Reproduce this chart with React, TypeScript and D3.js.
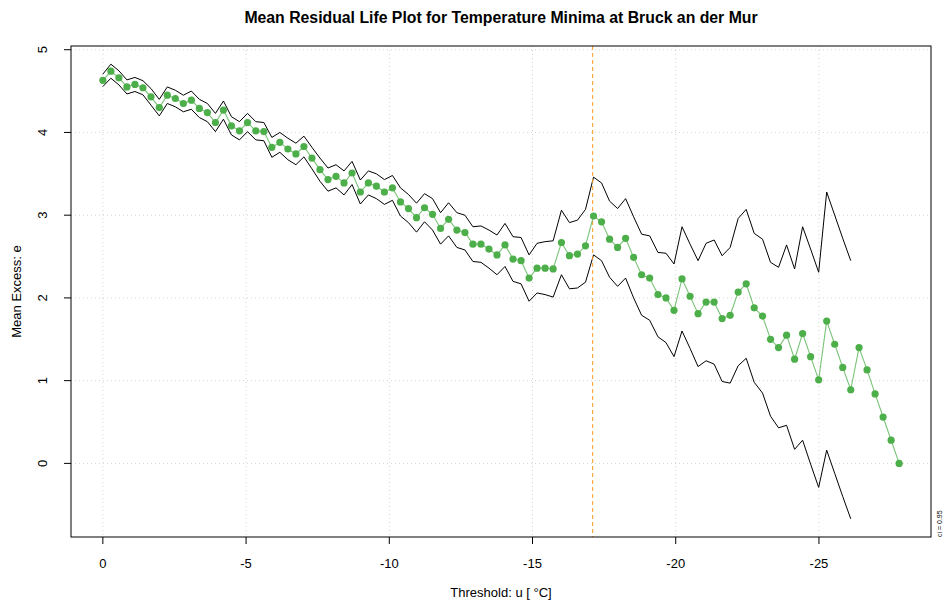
import React from "react";
import * as d3 from "d3";

// Thresholds u (°C), from 0 down to the lowest minimum
const thresholds: number[] = [
  0, -0.28, -0.56, -0.84, -1.12, -1.4, -1.68, -1.97, -2.25, -2.53,
  -2.81, -3.09, -3.37, -3.65, -3.93, -4.21, -4.49, -4.77, -5.05, -5.34,
  -5.62, -5.9, -6.18, -6.46, -6.74, -7.02, -7.3, -7.58, -7.86, -8.14,
  -8.42, -8.7, -8.99, -9.27, -9.55, -9.83, -10.11, -10.39, -10.67, -10.95,
  -11.23, -11.51, -11.79, -12.07, -12.36, -12.64, -12.92, -13.2, -13.48, -13.76,
  -14.04, -14.32, -14.6, -14.88, -15.16, -15.44, -15.72, -16.01, -16.29, -16.57,
  -16.85, -17.13, -17.41, -17.69, -17.97, -18.25, -18.53, -18.81, -19.09, -19.38,
  -19.66, -19.94, -20.22, -20.5, -20.78, -21.06, -21.34, -21.62, -21.9, -22.18,
  -22.46, -22.74, -23.03, -23.31, -23.59, -23.87, -24.15, -24.43, -24.71, -24.99,
  -25.27, -25.55, -25.83, -26.11, -26.4, -26.68, -26.96, -27.24, -27.52, -27.8,
];

// Mean excess e(u)
const meanExcess: number[] = [
  4.63, 4.74, 4.66, 4.55, 4.58, 4.54, 4.43, 4.3, 4.45, 4.41,
  4.35, 4.39, 4.29, 4.24, 4.12, 4.27, 4.08, 4.02, 4.12, 4.02,
  4.01, 3.82, 3.88, 3.8, 3.74, 3.83, 3.69, 3.55, 3.43, 3.47,
  3.39, 3.51, 3.28, 3.39, 3.35, 3.28, 3.33, 3.16, 3.08, 2.97,
  3.09, 3.01, 2.84, 2.95, 2.82, 2.79, 2.65, 2.65, 2.59, 2.52,
  2.64, 2.47, 2.45, 2.24, 2.36, 2.36, 2.35, 2.67, 2.51, 2.53,
  2.63, 2.99, 2.92, 2.71, 2.61, 2.72, 2.49, 2.28, 2.24, 2.04,
  2.0, 1.85, 2.23, 2.02, 1.81, 1.95, 1.95, 1.75, 1.79, 2.07,
  2.17, 1.88, 1.78, 1.5, 1.4, 1.55, 1.26, 1.57, 1.29, 1.01,
  1.72, 1.44, 1.16, 0.89, 1.4, 1.13, 0.84, 0.56, 0.28, 0.0,
];

// Half-width of the 95% confidence band (available for the first 94 thresholds)
const ciHalfWidth: number[] = [
  0.075, 0.085, 0.085, 0.085, 0.085, 0.085, 0.1, 0.1, 0.1, 0.1,
  0.1, 0.11, 0.11, 0.11, 0.11, 0.11, 0.11, 0.11, 0.11, 0.11,
  0.11, 0.12, 0.12, 0.13, 0.13, 0.125, 0.13, 0.14, 0.14, 0.14,
  0.145, 0.14, 0.145, 0.145, 0.15, 0.15, 0.15, 0.17, 0.17, 0.175,
  0.17, 0.19, 0.19, 0.2, 0.21, 0.21, 0.21, 0.22, 0.23, 0.24,
  0.26, 0.27, 0.28, 0.28, 0.3, 0.32, 0.34, 0.39, 0.4, 0.41,
  0.44, 0.47, 0.47, 0.46, 0.47, 0.48, 0.49, 0.49, 0.51, 0.51,
  0.54, 0.56, 0.63, 0.63, 0.64, 0.71, 0.75, 0.76, 0.82, 0.89,
  0.9, 0.9, 0.93, 0.93, 0.97, 1.09, 1.09, 1.29, 1.3, 1.3,
  1.56, 1.56, 1.56, 1.56,
];

const xTicks: number[] = [0, -5, -10, -15, -20, -25];
const yTicks: number[] = [0, 1, 2, 3, 4, 5];
const selectedThreshold = -17.1;
const ciLevel = 0.95;

const W = 951;
const H = 609;
const plot = { left: 71, right: 931, top: 46, bottom: 537 };
const FONT = "'Liberation Sans', Arial, Helvetica, sans-serif";
const GREEN = "#4DAF4A";

export default function App() {
  const upper = ciHalfWidth.map((h, i) => meanExcess[i] + h);
  const lower = ciHalfWidth.map((h, i) => meanExcess[i] - h);

  // R-style axis extents: data range padded by 4% on each side
  const xMin = d3.min(thresholds)!;
  const xMax = d3.max(thresholds)!;
  const xPad = (xMax - xMin) * 0.04;
  const yMin = Math.min(d3.min(lower)!, d3.min(meanExcess)!);
  const yMax = Math.max(d3.max(upper)!, d3.max(meanExcess)!);
  const yPad = (yMax - yMin) * 0.04;

  const x = d3
    .scaleLinear()
    .domain([xMax + xPad, xMin - xPad])
    .range([plot.left, plot.right]);
  const y = d3
    .scaleLinear()
    .domain([yMin - yPad, yMax + yPad])
    .range([plot.bottom, plot.top]);

  const line = d3
    .line<[number, number]>()
    .x((d) => x(d[0]))
    .y((d) => y(d[1]));

  const meanPts: [number, number][] = thresholds.map((u, i) => [u, meanExcess[i]]);
  const upperPts: [number, number][] = upper.map((v, i) => [thresholds[i], v]);
  const lowerPts: [number, number][] = lower.map((v, i) => [thresholds[i], v]);

  const midX = (plot.left + plot.right) / 2;
  const midY = (plot.top + plot.bottom) / 2;

  return (
    <svg
      width={W}
      height={H}
      style={{ position: "absolute", left: 0, top: 0, background: "#fff" }}
      fontFamily={FONT}
    >
      <rect x={0} y={0} width={W} height={H} fill="#fff" />

      {/* grid */}
      <g stroke="#d3d3d3" strokeWidth={1} strokeDasharray="1,3">
        {xTicks.map((t) => (
          <line key={"gx" + t} x1={x(t)} x2={x(t)} y1={plot.top} y2={plot.bottom} />
        ))}
        {yTicks.map((t) => (
          <line key={"gy" + t} x1={plot.left} x2={plot.right} y1={y(t)} y2={y(t)} />
        ))}
      </g>

      {/* confidence band limits */}
      <path d={line(upperPts)!} fill="none" stroke="#000" strokeWidth={1} />
      <path d={line(lowerPts)!} fill="none" stroke="#000" strokeWidth={1} />

      {/* selected threshold */}
      <line
        x1={x(selectedThreshold)}
        x2={x(selectedThreshold)}
        y1={plot.top}
        y2={plot.bottom}
        stroke="#FF9A1F"
        strokeWidth={1}
        strokeDasharray="4,3"
      />

      {/* mean excess */}
      <path d={line(meanPts)!} fill="none" stroke={GREEN} strokeOpacity={0.75} strokeWidth={1.1} />
      <g fill={GREEN}>
        {meanPts.map((p, i) => (
          <circle key={i} cx={x(p[0])} cy={y(p[1])} r={3.6} />
        ))}
      </g>

      {/* frame */}
      <rect
        x={plot.left}
        y={plot.top}
        width={plot.right - plot.left}
        height={plot.bottom - plot.top}
        fill="none"
        stroke="#000"
        strokeWidth={1}
      />

      {/* x axis */}
      <g fontSize={13} textAnchor="middle" fill="#000">
        {xTicks.map((t) => (
          <g key={"xt" + t}>
            <line x1={x(t)} x2={x(t)} y1={plot.bottom} y2={plot.bottom + 7} stroke="#000" />
            <text x={x(t)} y={plot.bottom + 31}>
              {t}
            </text>
          </g>
        ))}
      </g>

      {/* y axis */}
      <g fontSize={13} textAnchor="middle" fill="#000">
        {yTicks.map((t) => (
          <g key={"yt" + t}>
            <line x1={plot.left - 7} x2={plot.left} y1={y(t)} y2={y(t)} stroke="#000" />
            <text transform={`translate(${plot.left - 24.5},${y(t)}) rotate(-90)`}>{t}</text>
          </g>
        ))}
      </g>

      <text x={midX} y={23} textAnchor="middle" fontSize={15.8} fontWeight="bold">
        Mean Residual Life Plot for Temperature Minima at Bruck an der Mur
      </text>
      <text x={midX} y={597} textAnchor="middle" fontSize={13}>
        Threshold: u [ °C]
      </text>
      <text transform={`translate(21,${midY}) rotate(-90)`} textAnchor="middle" fontSize={13}>
        Mean Excess: e
      </text>
      <text
        transform={`translate(942,${plot.bottom}) rotate(-90)`}
        textAnchor="start"
        fontSize={7}
      >
        {`ci = ${ciLevel}`}
      </text>
    </svg>
  );
}
